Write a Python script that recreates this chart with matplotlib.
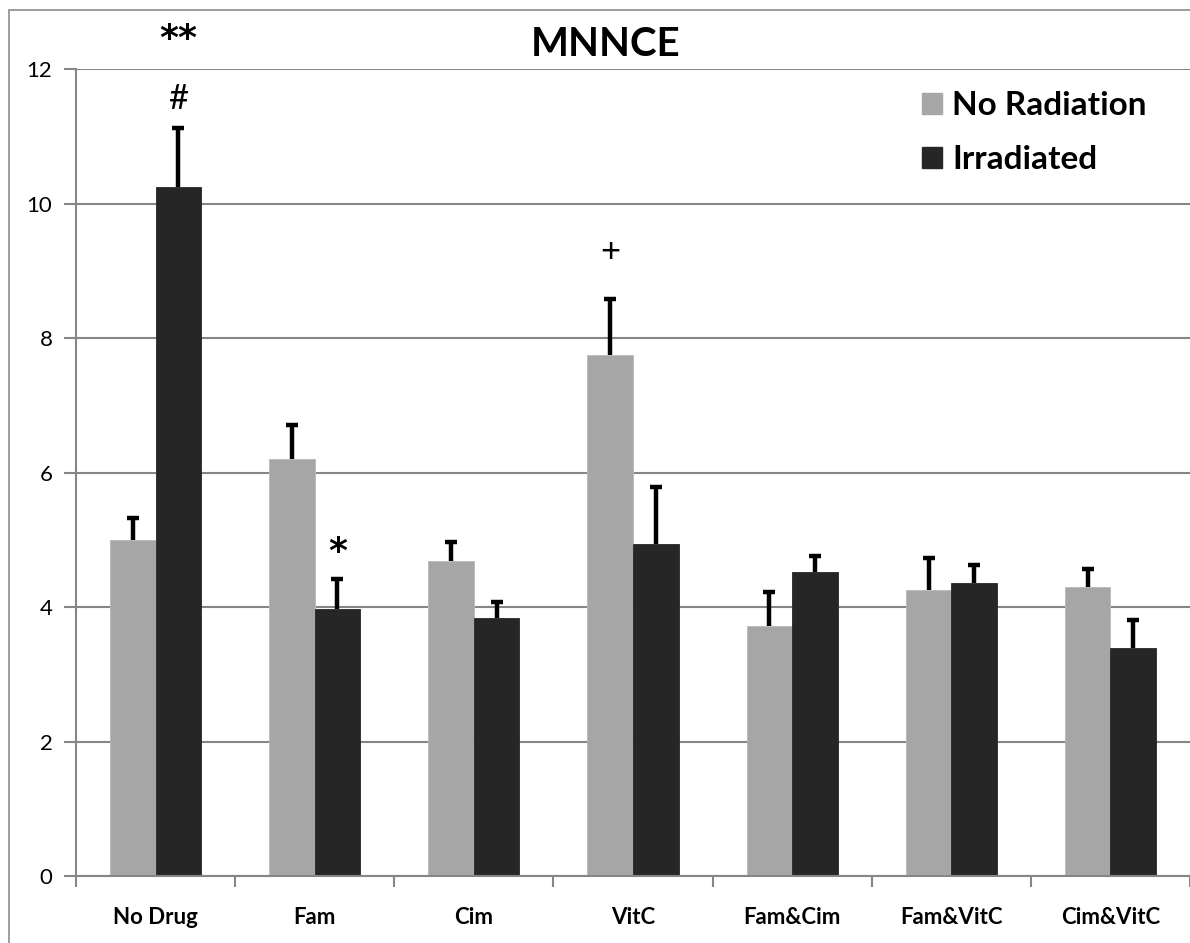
import matplotlib
matplotlib.use("Agg")
import matplotlib.pyplot as plt
from matplotlib.patches import Patch, Rectangle
import numpy as np

categories = ["No Drug", "Fam", "Cim", "VitC", "Fam&Cim", "Fam&VitC", "Cim&VitC"]
no_radiation = [5.00, 6.20, 4.68, 7.75, 3.72, 4.25, 4.30]
no_radiation_err = [0.33, 0.51, 0.29, 0.83, 0.50, 0.48, 0.26]
irradiated = [10.25, 3.97, 3.84, 4.93, 4.52, 4.35, 3.39]
irradiated_err = [0.88, 0.44, 0.24, 0.85, 0.24, 0.28, 0.42]
y_ticks = [0, 2, 4, 6, 8, 10, 12]
# annotations: (category index, series, text, y)
annotations = [(0, 1, "**", 12.45), (0, 1, "#", 11.55), (1, 1, "*", 4.82), (3, 0, "+", 9.28)]

plt.rcParams['font.family'] = ['Lato', 'DejaVu Sans']

W, H = 1190, 943
fig = plt.figure(figsize=(W / 100, H / 100), dpi=100)
fig.patch.set_facecolor("white")

# outer border
fig.add_artist(Rectangle((9 / W, -0.1), 1.2, 1 - 10 / H + 0.1, transform=fig.transFigure,
                         fill=False, edgecolor="#8c8c8c", linewidth=1.2))

left_px, right_px, top_px, bot_px = 76, 1190, 69, 876
ax = fig.add_axes([left_px / W, 1 - bot_px / H, (right_px - left_px) / W, (bot_px - top_px) / H])

gray = "#a6a6a6"
dark = "#262626"
grid_c = "#868686"
x = np.arange(len(categories))
bw = 0.286

ax.bar(x - bw / 2, no_radiation, bw, color=gray, edgecolor="#b8b8b8", linewidth=0.6, zorder=2,
       label="No Radiation")
ax.bar(x + bw / 2, irradiated, bw, color=dark, edgecolor=dark, linewidth=0.6, zorder=2,
       label="Irradiated")
zeros = [0] * len(categories)
for xs, vals, errs in [(x - bw / 2, no_radiation, no_radiation_err),
                       (x + bw / 2, irradiated, irradiated_err)]:
    eb = ax.errorbar(xs, vals, yerr=[zeros, errs], fmt="none", ecolor="black",
                     elinewidth=3.2, capsize=4.5, capthick=3.2, zorder=3)
    caps = eb[1]
    if len(caps) > 0:
        caps[0].set_visible(False)

for ci, s, t, yv in annotations:
    xv = x[ci] + (bw / 2 if s == 1 else -bw / 2)
    if t in ("**", "*"):
        ax.text(xv, yv, t, ha="center", va="center",
                fontsize=26, color="black", family=['DejaVu Sans'], fontweight="bold",
                clip_on=False)
    else:
        ax.text(xv, yv, t, ha="center", va="center", fontsize=25, color="black",
                family=['Lato', 'DejaVu Sans'], clip_on=False)

ax.set_ylim(0, 12)
ax.set_xlim(-0.5, -0.5 + (right_px - left_px) / 161.0)
ax.set_yticks(y_ticks)
ax.set_yticklabels([str(v) for v in y_ticks], fontsize=16)
ax.yaxis.grid(True, color=grid_c, linewidth=1.5, zorder=0)
ax.set_axisbelow(True)

ax.set_xticks(np.arange(-0.5, len(categories) + 0.5, 1.0))
ax.set_xticklabels([])
ax.set_xticks(x, minor=True)
ax.set_xticklabels(categories, minor=True, fontsize=16, fontweight="bold")
ax.tick_params(axis="x", which="minor", length=0, pad=22)
ax.tick_params(axis="x", which="major", length=8, width=1.5, color=grid_c, direction="out")
ax.tick_params(axis="y", length=9, width=1.5, color=grid_c, direction="out", pad=8)

for sp in ["top", "right"]:
    ax.spines[sp].set_visible(False)
for sp in ["left", "bottom"]:
    ax.spines[sp].set_color(grid_c)
    ax.spines[sp].set_linewidth(1.5)

fig.text(606 / W, 1 - 45 / H, "MNNCE", ha="center", va="center", fontsize=29, fontweight="bold")

handles = [Patch(facecolor=gray, edgecolor=gray), Patch(facecolor=dark, edgecolor=dark)]
leg = fig.legend(handles, ["No Radiation", "Irradiated"], loc="upper left",
                 bbox_to_anchor=(922 / W, 1 - 91 / H), frameon=False,
                 prop={"size": 24, "weight": "bold"}, handlelength=0.6, handleheight=0.6,
                 handletextpad=0.3, labelspacing=0.75, borderpad=0, borderaxespad=0)

fig.savefig("out.png", dpi=100)
